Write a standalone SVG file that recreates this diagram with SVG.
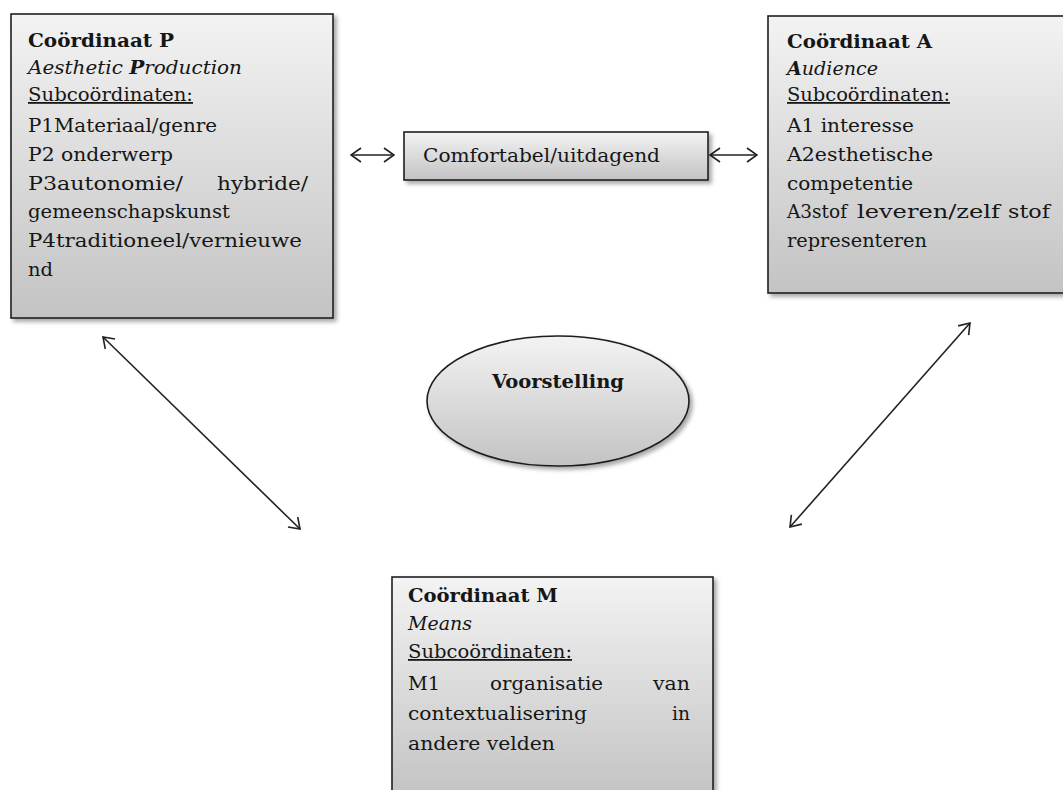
<svg xmlns="http://www.w3.org/2000/svg" width="1063" height="790" viewBox="0 0 1063 790">
<style>
.box{stroke:#1e1e1e;stroke-width:1.6;fill:url(#g)}
.t{font-family:"DejaVu Serif","Liberation Serif",serif;font-size:18px;fill:#161616}
.b{font-weight:bold}
.i{font-style:italic}
.u{text-decoration:underline}
.con{stroke:#222;stroke-width:1.6;fill:none;marker-start:url(#ah);marker-end:url(#ah)}
</style>
<defs>
<linearGradient id="g" x1="0" y1="0" x2="0" y2="1">
<stop offset="0" stop-color="#f3f3f3"/>
<stop offset="1" stop-color="#c3c3c3"/>
</linearGradient>
<filter id="sh" x="-10%" y="-10%" width="130%" height="130%">
<feDropShadow dx="3" dy="3" stdDeviation="2" flood-color="#000" flood-opacity="0.35"/>
</filter>
<marker id="ah" viewBox="0 0 12 16" refX="11" refY="8" markerWidth="12" markerHeight="16" markerUnits="userSpaceOnUse" orient="auto-start-reverse">
<path d="M1,1 L11,8 L1,15" fill="none" stroke="#222" stroke-width="1.6"/>
</marker>
</defs>
<rect width="1063" height="790" fill="#fff"/>

<g id="connectors">
<line class="con" x1="351" y1="155" x2="394" y2="155"/>
<line class="con" x1="710" y1="155" x2="757" y2="155"/>
<line class="con" x1="103" y1="337" x2="300" y2="529"/>
<line class="con" x1="970" y1="323" x2="790" y2="527"/>
</g>

<g id="nodeP">
<rect class="box" x="11" y="14" width="322" height="304" filter="url(#sh)"/>
<text class="t b" x="28" y="47" textLength="146" lengthAdjust="spacingAndGlyphs">Coördinaat P</text>
<text class="t i" x="28" y="74" textLength="214" lengthAdjust="spacingAndGlyphs">Aesthetic <tspan class="b">P</tspan>roduction</text>
<text class="t u" x="28" y="101" textLength="165" lengthAdjust="spacingAndGlyphs">Subcoördinaten:</text>
<text class="t" x="28" y="132" textLength="189" lengthAdjust="spacingAndGlyphs">P1Materiaal/genre</text>
<text class="t" x="28" y="161" textLength="145" lengthAdjust="spacingAndGlyphs">P2 onderwerp</text>
<text class="t" x="28" y="190" textLength="155" lengthAdjust="spacingAndGlyphs">P3autonomie/</text>
<text class="t" x="217" y="190" textLength="91" lengthAdjust="spacingAndGlyphs">hybride/</text>
<text class="t" x="28" y="218" textLength="202" lengthAdjust="spacingAndGlyphs">gemeenschapskunst</text>
<text class="t" x="28" y="247" textLength="274" lengthAdjust="spacingAndGlyphs">P4traditioneel/vernieuwe</text>
<text class="t" x="28" y="276" textLength="25" lengthAdjust="spacingAndGlyphs">nd</text>
</g>

<g id="nodeComfort">
<rect class="box" x="404" y="132" width="304" height="48" filter="url(#sh)"/>
<text class="t" x="423" y="162" textLength="237" lengthAdjust="spacingAndGlyphs">Comfortabel/uitdagend</text>
</g>

<g id="nodeA">
<rect class="box" x="768" y="16" width="300" height="277" filter="url(#sh)"/>
<text class="t b" x="787" y="48" textLength="145" lengthAdjust="spacingAndGlyphs">Coördinaat A</text>
<text class="t i" x="787" y="75" textLength="91" lengthAdjust="spacingAndGlyphs"><tspan class="b">A</tspan>udience</text>
<text class="t u" x="787" y="101" textLength="163" lengthAdjust="spacingAndGlyphs">Subcoördinaten:</text>
<text class="t" x="787" y="132" textLength="127" lengthAdjust="spacingAndGlyphs">A1 interesse</text>
<text class="t" x="787" y="161" textLength="146" lengthAdjust="spacingAndGlyphs">A2esthetische</text>
<text class="t" x="787" y="190" textLength="126" lengthAdjust="spacingAndGlyphs">competentie</text>
<text class="t" x="787" y="218" textLength="60" lengthAdjust="spacingAndGlyphs">A3stof</text>
<text class="t" x="857" y="218" textLength="143" lengthAdjust="spacingAndGlyphs">leveren/zelf</text>
<text class="t" x="1008" y="218" textLength="42" lengthAdjust="spacingAndGlyphs">stof</text>
<text class="t" x="787" y="247" textLength="140" lengthAdjust="spacingAndGlyphs">representeren</text>
</g>

<g id="nodeVoorstelling">
<ellipse cx="558" cy="401" rx="131" ry="65" fill="url(#g)" stroke="#1e1e1e" stroke-width="1.6" filter="url(#sh)"/>
<text class="t b" x="492" y="388" textLength="132" lengthAdjust="spacingAndGlyphs">Voorstelling</text>
</g>

<g id="nodeM">
<rect class="box" x="392" y="577" width="321" height="220" filter="url(#sh)"/>
<text class="t b" x="408" y="602" textLength="150" lengthAdjust="spacingAndGlyphs">Coördinaat M</text>
<text class="t i" x="408" y="630" textLength="64" lengthAdjust="spacingAndGlyphs">Means</text>
<text class="t u" x="408" y="658" textLength="164" lengthAdjust="spacingAndGlyphs">Subcoördinaten:</text>
<text class="t" x="408" y="690" textLength="32" lengthAdjust="spacingAndGlyphs">M1</text>
<text class="t" x="490" y="690" textLength="113" lengthAdjust="spacingAndGlyphs">organisatie</text>
<text class="t" x="653" y="690" textLength="37" lengthAdjust="spacingAndGlyphs">van</text>
<text class="t" x="408" y="720" textLength="179" lengthAdjust="spacingAndGlyphs">contextualisering</text>
<text class="t" x="672" y="720" textLength="18" lengthAdjust="spacingAndGlyphs">in</text>
<text class="t" x="408" y="750" textLength="147" lengthAdjust="spacingAndGlyphs">andere velden</text>
</g>
</svg>
